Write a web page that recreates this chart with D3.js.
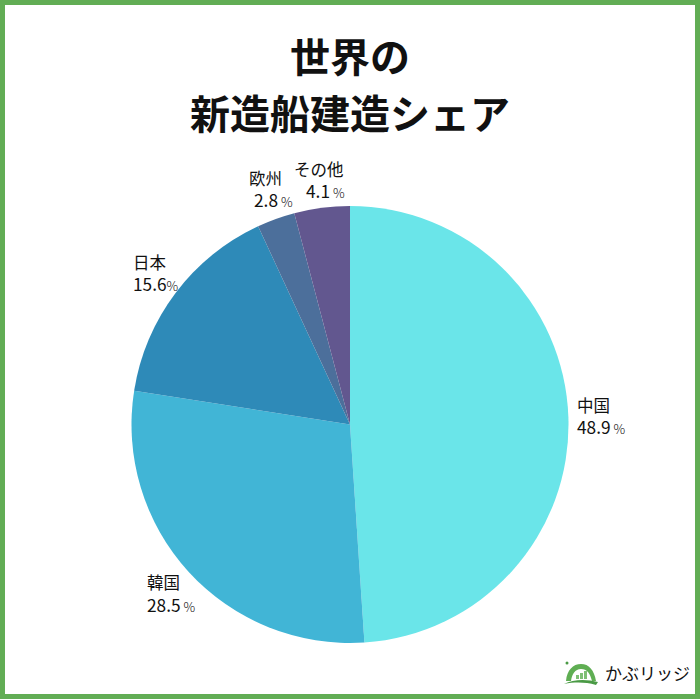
<!DOCTYPE html>
<html><head><meta charset="utf-8">
<script src="https://cdn.jsdelivr.net/npm/d3@7/dist/d3.min.js"></script>
<style>html,body{margin:0;padding:0;background:#fff}svg{display:block}
text{font-family:"Noto Sans CJK JP","Noto Sans",sans-serif;fill:#111}</style></head>
<body><svg id="c" width="700" height="700"></svg>
<script>
const categories=["中国","韓国","日本","欧州","その他"];
const shares=[48.9,28.5,15.6,2.8,4.1];
const percentLabels=["48.9","28.5","15.6","2.8","4.1"];
const colors=["#6ae5e9","#41b5d6","#2e8ab8","#4c6f9b","#62578f"];
const titleLines=["世界の","新造船建造シェア"];
const labelAnchor=[[577,412],[147,589],[133,269],[249,185],[294,176]];
const valueAnchor=[[577,434],[147,612],[133,291],[254,207],[306,198]];
const svg=d3.select("#c");
svg.append("rect").attr("x",2.5).attr("y",2.5).attr("width",695).attr("height",694)
  .attr("fill","#fff").attr("stroke","#62ad55").attr("stroke-width",5);
svg.selectAll("text.t").data(titleLines).join("text").attr("class","t")
  .attr("x",350).attr("y",(d,i)=>[72,129][i]).attr("text-anchor","middle")
  .attr("font-size",40).attr("font-weight",700).attr("fill","#000").text(d=>d);
const pie=d3.pie().sort(null).value(d=>d);
const arc=d3.arc().innerRadius(0).outerRadius(218.5);
const g=svg.append("g").attr("transform","translate(350,424.5)");
g.selectAll("path").data(pie(shares)).join("path").attr("d",arc).attr("fill",(d,i)=>colors[i]);
categories.forEach((c,i)=>{
  const t=svg.append("text").attr("x",labelAnchor[i][0]).attr("y",labelAnchor[i][1]);
  t.append("tspan").attr("font-size",16.5).text(c);
  t.append("tspan").attr("x",valueAnchor[i][0]).attr("y",valueAnchor[i][1]).attr("font-size",17.3).text(percentLabels[i]);
  t.append("tspan").attr("font-size",13).attr("font-weight",300).attr("dx",i==2?0:3).text("%");
});
// logo
const logo=svg.append("g").attr("transform","translate(563,662)");
logo.append("path").attr("d","M3,19 C4,8 10,2 18,2 C26,2 31,8 33,19 L29,19 C27,11 24,7 18,7 C12,7 9,12 8,19 Z").attr("fill","#5fae53");
logo.append("path").attr("d","M1,22 C10,17 24,17 35,20 L33,23 C22,20 12,20 1,22 Z").attr("fill","#4a9a45");
[[13,13,3,4],[17,11,3,6],[21,9,3,8]].forEach(b=>logo.append("rect").attr("x",b[0]).attr("y",b[1]).attr("width",b[2]).attr("height",b[3]).attr("fill","#7fbf75"));
logo.append("circle").attr("cx",4).attr("cy",1).attr("r",1.5).attr("fill","#4a9a45");
svg.append("text").attr("x",605).attr("y",680).attr("font-size",17).attr("fill","#333").text("かぶリッジ");
</script></body></html>
